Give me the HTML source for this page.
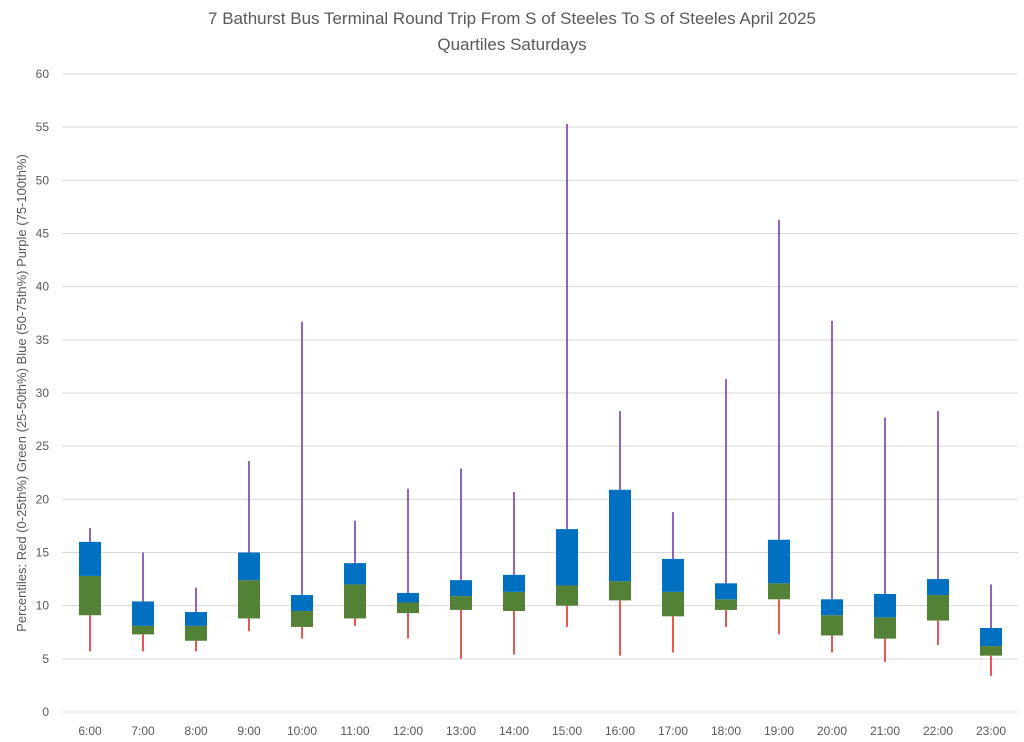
<!DOCTYPE html>
<html><head><meta charset="utf-8"><style>
body{margin:0;background:#fff;}
svg{display:block;font-family:"Liberation Sans",sans-serif;}
</style></head><body>
<svg id="chart" width="1024" height="742">
<text x="512" y="24" text-anchor="middle" font-size="17" fill="#595959">7 Bathurst Bus Terminal Round Trip From S of Steeles To S of Steeles April 2025</text>
<text x="512" y="50" text-anchor="middle" font-size="17" fill="#595959">Quartiles Saturdays</text>
<text transform="translate(26,393) rotate(-90)" text-anchor="middle" font-size="13" fill="#595959">Percentiles:  Red (0-25th%)  Green (25-50th%)  Blue (50-75th%)  Purple (75-100th%)</text>
<g id="grid"></g><g id="marks"></g>
</svg>
<script>
const categories=["6:00","7:00","8:00","9:00","10:00","11:00","12:00","13:00","14:00","15:00","16:00","17:00","18:00","19:00","20:00","21:00","22:00","23:00"];
const minVals=[5.7,5.7,5.7,7.6,6.9,8.1,6.9,5.0,5.4,8.0,5.3,5.6,8.0,7.3,5.6,4.7,6.3,3.4];
const q1Vals=[9.1,7.3,6.7,8.8,8.0,8.8,9.3,9.6,9.5,10.0,10.5,9.0,9.6,10.6,7.2,6.9,8.6,5.3];
const medVals=[12.8,8.1,8.1,12.4,9.5,12.0,10.3,10.9,11.3,11.9,12.3,11.3,10.6,12.1,9.1,8.9,11.0,6.2];
const q3Vals=[16.0,10.4,9.4,15.0,11.0,14.0,11.2,12.4,12.9,17.2,20.9,14.4,12.1,16.2,10.6,11.1,12.5,7.9];
const maxVals=[17.3,15.0,11.7,23.6,36.7,18.0,21.0,22.9,20.7,55.3,28.3,18.8,31.3,46.3,36.8,27.7,28.3,12.0];
const yTicks=[0,5,10,15,20,25,30,35,40,45,50,55,60];
const NS="http://www.w3.org/2000/svg";
const y=v=>712-v*10.633;
const x=i=>90+i*53;
function mk(tag,attrs,parent){const e=document.createElementNS(NS,tag);for(const k in attrs)e.setAttribute(k,attrs[k]);parent.appendChild(e);return e;}
const grid=document.getElementById('grid'),marks=document.getElementById('marks');
yTicks.forEach(t=>{
 const l=mk('line',{x1:62,x2:1018,y1:y(t),y2:y(t),stroke:'#d9d9d9','stroke-width':1},grid);
 
 
 const tx=mk('text',{x:49,y:y(t)+4,'text-anchor':'end','font-size':12,fill:'#595959'},grid);
 tx.textContent=t;
 
 
});
categories.forEach((c,i)=>{
 const cx=x(i),w=11;
 const r=mk('line',{x1:cx,x2:cx,y1:y(minVals[i]),y2:y(q1Vals[i]),stroke:'#e0201b','stroke-width':1.5},marks);
 
 
 const p=mk('line',{x1:cx,x2:cx,y1:y(maxVals[i]),y2:y(q3Vals[i]),stroke:'#7030a0','stroke-width':1.5},marks);
 
 
 const g=mk('rect',{x:cx-w,width:2*w,y:y(medVals[i]),height:y(q1Vals[i])-y(medVals[i]),fill:'#538135'},marks);
 
 
 const b=mk('rect',{x:cx-w,width:2*w,y:y(q3Vals[i]),height:y(medVals[i])-y(q3Vals[i]),fill:'#0070c0'},marks);
 
 
 const t=mk('text',{x:cx,y:735,'text-anchor':'middle','font-size':12,fill:'#595959'},marks);
 t.textContent=c;
 
 
});
</script>
</body></html>
